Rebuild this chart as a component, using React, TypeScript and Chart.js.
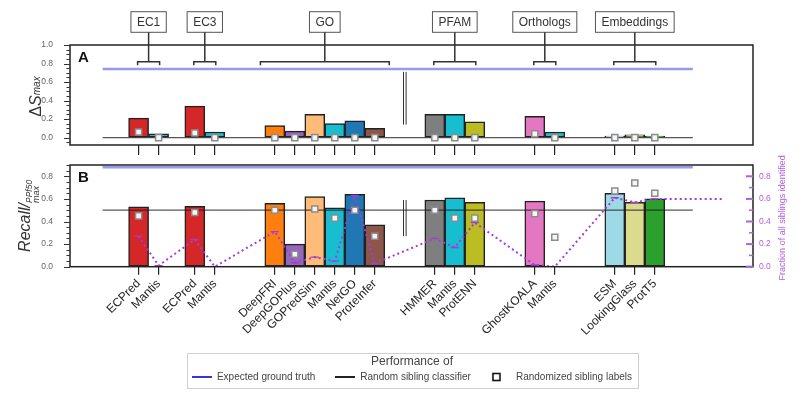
import React, { useEffect, useRef } from 'react';
import { Chart, registerables } from 'chart.js';

Chart.register(...registerables);

const FONT = '"Liberation Sans", Arial, Helvetica, sans-serif';
Chart.defaults.font.family = FONT;

// ---------- data ----------
const groups = ['EC1', 'EC3', 'GO', 'PFAM', 'Orthologs', 'Embeddings'];
const groupSizes = [2, 2, 6, 3, 2, 3];
const methods = [
  'ECPred', 'Mantis',
  'ECPred', 'Mantis',
  'DeepFRI', 'DeepGOPlus', 'GOPredSim', 'Mantis', 'NetGO', 'ProteInfer',
  'HMMER', 'Mantis', 'ProtENN',
  'GhostKOALA', 'Mantis',
  'ESM', 'LookingGlass', 'ProtT5',
];
const methodColors = [
  '#d62728', '#17becf',
  '#d62728', '#17becf',
  '#ff7f0e', '#9467bd', '#ffbb78', '#17becf', '#1f77b4', '#8c564b',
  '#7f7f7f', '#17becf', '#bcbd22',
  '#e377c2', '#17becf',
  '#9edae5', '#dbdb8d', '#2ca02c',
];
const deltaS = [0.21, 0.04, 0.34, 0.06, 0.13, 0.07, 0.25, 0.15, 0.18, 0.10, 0.25, 0.25, 0.17, 0.23, 0.06, 0.015, 0.03, 0.015];
const deltaSRandomized = [0.06, 0.0, 0.05, 0.0, 0.0, 0.0, 0.0, 0.0, 0.0, 0.0, 0.0, 0.0, 0.0, 0.04, 0.0, 0.0, 0.0, 0.0];
const recall = [0.53, 0, 0.535, 0, 0.56, 0.20, 0.62, 0.52, 0.64, 0.37, 0.59, 0.61, 0.57, 0.58, 0, 0.65, 0.57, 0.60];
const recallRandomized: (number | null)[] = [0.45, null, 0.48, null, 0.50, 0.11, 0.51, 0.43, 0.50, 0.27, 0.50, 0.43, 0.43, 0.47, 0.26, 0.67, 0.74, 0.65];
const siblingsFraction = [0.27, 0.01, 0.24, 0.0, 0.31, 0.035, 0.085, 0.05, 0.63, 0.03, 0.25, 0.17, 0.39, 0.015, 0.0, 0.61, 0.57, 0.60];
const siblingsFractionTail = 0.60;
const expectedTruthA = 0.74;
const randomClassifierA = 0.0;
const expectedTruthB = 0.88;
const randomClassifierB = 0.5;
const yTicksA = [0, 0.2, 0.4, 0.6, 0.8, 1.0];
const yTicksB = [0, 0.2, 0.4, 0.6, 0.8];

// ---------- layout ----------
const W = 802;
const PAD_L = 30, Y_W = 40, PAD_R = 8, Y2_W = 41;
const PX_PER_UNIT = 20;
const X_MAX = (W - PAD_L - Y_W - PAD_R - Y2_W) / PX_PER_UNIT;
const GROUP_LEAD = [3.43, 1.81, 3, 3, 3, 3];
const BRACKET_EXTRA = [0.05, 0.05, 0.72, 0.05, 0.05, 0.05];
const positions: number[] = [];
const groupStart: number[] = [];
{
  let c = 0;
  groupSizes.forEach((n, g) => {
    c += GROUP_LEAD[g];
    groupStart.push(positions.length);
    for (let k = 0; k < n; k++) positions.push(c + k);
    c += n - 1;
  });
}
const lineStart = positions[0] - 1.8;
const lineEnd = positions[positions.length - 1] + 1.9;
const tailX = positions[positions.length - 1] + 3.35;
const breakX = (positions[9] + positions[10]) / 2;

const BLUE_PLOT = 'rgba(70,70,225,0.55)';
const BLACK_PLOT = 'rgba(30,30,30,0.75)';
const PURPLE_LINE = '#a23ed6';
const PURPLE_AXIS = '#b15fe0';

const pts = (arr: (number | null)[]) =>
  positions.map((x, i) => ({ x, y: arr[i] })).filter((p) => p.y !== null);

// ---------- drawing helpers ----------
function drawFrame(ctx: CanvasRenderingContext2D, a: any) {
  ctx.strokeStyle = '#222';
  ctx.lineWidth = 1.5;
  ctx.strokeRect(a.left, a.top, a.right - a.left, a.bottom - a.top);
}

function drawLeftTicks(ctx: CanvasRenderingContext2D, ys: any, x: number, majors: number[], step: number) {
  ctx.strokeStyle = '#333';
  ctx.lineWidth = 1;
  const s = Math.ceil(ys.min / step - 1e-6);
  const e = Math.floor(ys.max / step + 1e-6);
  for (let k = s; k <= e; k++) {
    const v = k * step;
    const major = majors.some((m) => Math.abs(m - v) < 1e-6);
    const y = Math.round(ys.getPixelForValue(v)) + 0.5;
    ctx.beginPath();
    ctx.moveTo(x - (major ? 6 : 3.5), y);
    ctx.lineTo(x, y);
    ctx.stroke();
  }
}

function drawBreak(ctx: CanvasRenderingContext2D, xs: any, ys: any, v1: number, v2: number) {
  const x = xs.getPixelForValue(breakX);
  ctx.strokeStyle = '#333';
  ctx.lineWidth = 1;
  [-1.3, 1.3].forEach((d) => {
    ctx.beginPath();
    ctx.moveTo(x + d, ys.getPixelForValue(v1));
    ctx.lineTo(x + d, ys.getPixelForValue(v2));
    ctx.stroke();
  });
}

function drawLetter(ctx: CanvasRenderingContext2D, t: string, a: any) {
  ctx.fillStyle = '#111';
  ctx.font = `bold 15px ${FONT}`;
  ctx.textAlign = 'left';
  ctx.textBaseline = 'middle';
  ctx.fillText(t, a.left + 8, a.top + 13);
}

type Part = { t: string; font: string; dy: number; stack?: boolean };
function drawRich(ctx: CanvasRenderingContext2D, cx: number, cy: number, parts: Part[], color: string) {
  ctx.save();
  ctx.translate(cx, cy);
  ctx.rotate(-Math.PI / 2);
  ctx.fillStyle = color;
  ctx.textAlign = 'left';
  ctx.textBaseline = 'alphabetic';
  const ws = parts.map((p) => {
    ctx.font = p.font;
    return ctx.measureText(p.t).width;
  });
  const xp: number[] = [];
  let lastStart = 0, lastAdv = 0;
  parts.forEach((p, i) => {
    if (p.stack) {
      xp.push(lastStart);
      lastAdv = Math.max(lastAdv, ws[i]);
    } else {
      const x = lastStart + lastAdv;
      xp.push(x);
      lastStart = x;
      lastAdv = ws[i];
    }
  });
  const total = lastStart + lastAdv;
  parts.forEach((p, i) => {
    ctx.font = p.font;
    ctx.fillText(p.t, xp[i] - total / 2, p.dy);
  });
  ctx.restore();
}

const decorA = {
  id: 'decorA',
  afterDraw(chart: any) {
    const { ctx, chartArea: a, scales } = chart;
    const xs = scales.x, ys = scales.y;
    ctx.save();
    drawFrame(ctx, a);
    drawLeftTicks(ctx, ys, a.left, yTicksA, 0.05);
    drawBreak(ctx, xs, ys, 0.71, 0.14);
    drawLetter(ctx, 'A', a);
    drawRich(ctx, 35, (a.top + a.bottom) / 2 + 1.5, [
      { t: 'Δ', font: `16px ${FONT}`, dy: 6 },
      { t: 'S', font: `italic 16px ${FONT}`, dy: 6 },
      { t: 'max', font: `italic 10px ${FONT}`, dy: 5 },
    ], '#333');
    // group labels with brackets
    const yb = ys.getPixelForValue(0.82);
    const by = 11.7, bh = 20.6;
    groups.forEach((g, gi) => {
      const f = positions[groupStart[gi]];
      const l = positions[groupStart[gi] + groupSizes[gi] - 1];
      const cx = (xs.getPixelForValue(f) + xs.getPixelForValue(l)) / 2;
      const x1 = xs.getPixelForValue(f - BRACKET_EXTRA[gi]);
      const x2 = xs.getPixelForValue(l + BRACKET_EXTRA[gi]);
      ctx.font = `12px ${FONT}`;
      const tw = ctx.measureText(g).width;
      const bw = tw + 12;
      ctx.fillStyle = '#fff';
      ctx.fillRect(cx - bw / 2, by, bw, bh);
      ctx.strokeStyle = '#555';
      ctx.lineWidth = 1;
      ctx.strokeRect(cx - bw / 2, by, bw, bh);
      ctx.fillStyle = '#333';
      ctx.textAlign = 'center';
      ctx.textBaseline = 'middle';
      ctx.fillText(g, cx, by + bh / 2 + 0.5);
      ctx.strokeStyle = '#333';
      ctx.lineWidth = 1.5;
      ctx.beginPath();
      ctx.moveTo(cx, by + bh);
      ctx.lineTo(cx, yb);
      ctx.stroke();
      ctx.beginPath();
      ctx.moveTo(x1, yb + 3.5);
      ctx.lineTo(x1, yb);
      ctx.lineTo(x2, yb);
      ctx.lineTo(x2, yb + 3.5);
      ctx.stroke();
    });
    ctx.restore();
  },
};

const decorB = {
  id: 'decorB',
  afterDraw(chart: any) {
    const { ctx, chartArea: a, scales } = chart;
    const xs = scales.x, ys = scales.y, y2 = scales.y2;
    ctx.save();
    drawFrame(ctx, a);
    drawLeftTicks(ctx, ys, a.left, yTicksB, 0.05);
    // right purple ticks (inward)
    ctx.strokeStyle = PURPLE_AXIS;
    for (let k = 0; k <= 8; k++) {
      const major = k % 2 === 0;
      const y = y2.getPixelForValue(k * 0.1);
      ctx.lineWidth = major ? 2 : 1.5;
      ctx.beginPath();
      ctx.moveTo(a.right - (major ? 7 : 4), y);
      ctx.lineTo(a.right, y);
      ctx.stroke();
    }
    drawBreak(ctx, xs, ys, 0.59, 0.27);
    drawLetter(ctx, 'B', a);
    drawRich(ctx, 24, (a.top + a.bottom) / 2, [
      { t: 'Recall/', font: `italic 16px ${FONT}`, dy: 6 },
      { t: 'PPf50', font: `italic 8.5px ${FONT}`, dy: 8 },
      { t: 'max', font: `italic 9px ${FONT}`, dy: 14.5, stack: true },
    ], '#333');
    // right title
    ctx.save();
    ctx.translate(783, (a.top + a.bottom) / 2 + 2);
    ctx.rotate(-Math.PI / 2);
    ctx.fillStyle = PURPLE_AXIS;
    ctx.font = `9px ${FONT}`;
    ctx.textAlign = 'center';
    ctx.textBaseline = 'middle';
    ctx.fillText('Fraction of all siblings identified', 0, 0);
    ctx.restore();
    // legend frame
    const lg = chart.legend;
    if (lg && lg.legendHitBoxes && lg.legendHitBoxes.length) {
      const hb = lg.legendHitBoxes;
      const l = Math.min(...hb.map((h: any) => h.left)) - 5;
      const r = Math.max(...hb.map((h: any) => h.left + h.width)) + 6;
      const itemsCenter = hb[0].top + hb[0].height / 2;
      const top = lg.top - 0.5;
      const bottom = itemsCenter + 10.3;
      ctx.strokeStyle = '#cfcfcf';
      ctx.lineWidth = 1;
      ctx.strokeRect(Math.round(l) + 0.5, Math.round(top) + 0.5, Math.round(r - l), Math.round(bottom - top));
    }
    ctx.restore();
  },
};

function xScale(tickLen: number, height: number, showLabels: boolean) {
  return {
    type: 'linear',
    min: 0,
    max: X_MAX,
    offset: false,
    afterBuildTicks: (s: any) => {
      s.ticks = positions.map((v) => ({ value: v }));
    },
    afterFit: (s: any) => {
      s.height = height;
    },
    grid: { display: true, drawOnChartArea: false, drawTicks: true, tickLength: tickLen, color: '#222', lineWidth: 1.2, offset: false },
    border: { display: false },
    ticks: {
      display: showLabels,
      autoSkip: false,
      minRotation: 45,
      maxRotation: 45,
      padding: 2,
      color: '#222',
      font: { size: 12, family: FONT },
      callback: (_v: any, i: number) => methods[i],
    },
  };
}

// tick marks themselves are drawn by the plugins; the (invisible) tickLength only offsets the labels
function yScale(min: number, max: number, ticks: number[], pos: string, width: number, color: string, gap: number) {
  return {
    type: 'linear',
    position: pos,
    min,
    max,
    afterBuildTicks: (s: any) => {
      s.ticks = ticks.map((v) => ({ value: v }));
    },
    afterFit: (s: any) => {
      s.width = width;
    },
    grid: { display: true, drawOnChartArea: false, drawTicks: true, tickLength: gap, color: 'rgba(0,0,0,0)' },
    border: { display: false },
    ticks: { padding: 1, color, font: { size: 8.5, family: FONT }, callback: (v: any) => Number(v).toFixed(1) },
  };
}

function symbolLine(color: string) {
  const c = document.createElement('canvas');
  c.width = 20;
  c.height = 4;
  const x = c.getContext('2d')!;
  x.strokeStyle = color;
  x.lineWidth = 2;
  x.beginPath();
  x.moveTo(0, 2);
  x.lineTo(20, 2);
  x.stroke();
  return c;
}
function symbolSquare() {
  const c = document.createElement('canvas');
  c.width = 20;
  c.height = 10;
  const x = c.getContext('2d')!;
  x.fillStyle = '#fff';
  x.fillRect(2, 1.5, 7, 7);
  x.strokeStyle = '#111';
  x.lineWidth = 1.6;
  x.strokeRect(2, 1.5, 7, 7);
  return c;
}

export default function App() {
  const refA = useRef<HTMLCanvasElement>(null);
  const refB = useRef<HTMLCanvasElement>(null);

  useEffect(() => {
    const markerStyle = {
      pointStyle: 'rect',
      pointRadius: 4.3,
      pointBackgroundColor: '#f5f5f5',
      pointBorderColor: '#8c8c8c',
      pointBorderWidth: 1.5,
    };
    const barStyle = {
      backgroundColor: methodColors,
      borderColor: '#222',
      borderWidth: 1.5,
      borderSkipped: false,
      barPercentage: 1,
      categoryPercentage: 1,
    };

    const chartA = new Chart(refA.current as HTMLCanvasElement, {
      type: 'bar',
      data: {
        datasets: [
          { type: 'bar', label: 'ΔSmax', data: pts(deltaS), ...barStyle, order: 4 } as any,
          { type: 'scatter', label: 'Randomized sibling labels', data: pts(deltaSRandomized), ...markerStyle, order: 1 } as any,
          { type: 'line', label: 'Expected ground truth', data: [{ x: lineStart, y: expectedTruthA }, { x: lineEnd, y: expectedTruthA }], borderColor: BLUE_PLOT, borderWidth: 2.5, pointRadius: 0, order: 2 } as any,
          { type: 'line', label: 'Random sibling classifier', data: [{ x: lineStart, y: randomClassifierA }, { x: lineEnd, y: randomClassifierA }], borderColor: BLACK_PLOT, borderWidth: 1.3, pointRadius: 0, order: 2 } as any,
        ],
      },
      options: {
        responsive: false,
        animation: false,
        devicePixelRatio: 1,
        layout: { padding: { left: PAD_L, right: PAD_R + Y2_W, top: 45, bottom: 0 } },
        plugins: { legend: { display: false }, tooltip: { enabled: false } },
        scales: {
          x: xScale(10, 15, false) as any,
          y: yScale(-0.08, 1.0, yTicksA, 'left', Y_W, '#666', 16) as any,
        },
      },
      plugins: [decorA],
    } as any);

    const symBlue = symbolLine('#3535dd');
    const symBlack = symbolLine('#222');
    const symSquare = symbolSquare();

    const chartB = new Chart(refB.current as HTMLCanvasElement, {
      type: 'bar',
      data: {
        datasets: [
          { type: 'bar', label: 'Recall', data: pts(recall), ...barStyle, order: 4 } as any,
          { type: 'scatter', label: 'Randomized sibling labels', data: pts(recallRandomized), ...markerStyle, order: 1 } as any,
          { type: 'line', label: 'Expected ground truth', data: [{ x: lineStart, y: expectedTruthB }, { x: lineEnd, y: expectedTruthB }], borderColor: BLUE_PLOT, borderWidth: 2.5, pointRadius: 0, order: 2 } as any,
          { type: 'line', label: 'Random sibling classifier', data: [{ x: lineStart, y: randomClassifierB }, { x: lineEnd, y: randomClassifierB }], borderColor: BLACK_PLOT, borderWidth: 1.3, pointRadius: 0, order: 2 } as any,
          {
            type: 'line',
            label: 'Fraction of all siblings identified',
            yAxisID: 'y2',
            data: [...pts(siblingsFraction), { x: tailX, y: siblingsFractionTail }],
            borderColor: PURPLE_LINE,
            borderWidth: 2,
            borderDash: [2, 3],
            pointStyle: 'line',
            pointRadius: (c: any) => (c.dataIndex === positions.length ? 0 : 4),
            pointBorderColor: PURPLE_LINE,
            pointBorderWidth: 1.3,
            tension: 0,
            order: 0,
          } as any,
        ],
      },
      options: {
        responsive: false,
        animation: false,
        devicePixelRatio: 1,
        layout: { padding: { left: PAD_L, right: PAD_R, top: 15, bottom: 5 } },
        plugins: {
          tooltip: { enabled: false },
          legend: {
            display: true,
            position: 'bottom',
            title: {
              display: true,
              text: 'Performance of',
              color: '#444',
              font: { size: 12, family: FONT },
              padding: { top: 3, bottom: -18.4 },
            },
            labels: {
              usePointStyle: true,
              pointStyleWidth: 20,
              padding: 20,
              color: '#444',
              font: { size: 10, family: FONT },
              generateLabels: () => [
                { text: 'Expected ground truth', pointStyle: symBlue, fillStyle: '#3535dd', strokeStyle: '#3535dd', lineWidth: 0, hidden: false, datasetIndex: 2, fontColor: '#444' },
                { text: 'Random sibling classifier', pointStyle: symBlack, fillStyle: '#222', strokeStyle: '#222', lineWidth: 0, hidden: false, datasetIndex: 3, fontColor: '#444' },
                { text: 'Randomized sibling labels', pointStyle: symSquare, fillStyle: '#fff', strokeStyle: '#111', lineWidth: 0, hidden: false, datasetIndex: 1, fontColor: '#444' },
              ],
            },
          },
        },
        scales: {
          x: xScale(8, 86.3, true) as any,
          y: yScale(0, 0.9, yTicksB, 'left', Y_W, '#666', 16) as any,
          y2: yScale(0, 0.9, yTicksB, 'right', Y2_W, PURPLE_AXIS, 5) as any,
        },
      },
      plugins: [decorB],
    } as any);

    return () => {
      chartA.destroy();
      chartB.destroy();
    };
  }, []);

  return (
    <div style={{ position: 'absolute', left: 0, top: 0, width: 802, height: 397, background: '#fff' }}>
      <canvas ref={refA} width={802} height={160} style={{ position: 'absolute', left: 0, top: 0 }} />
      <canvas ref={refB} width={802} height={247} style={{ position: 'absolute', left: 0, top: 150 }} />
    </div>
  );
}
